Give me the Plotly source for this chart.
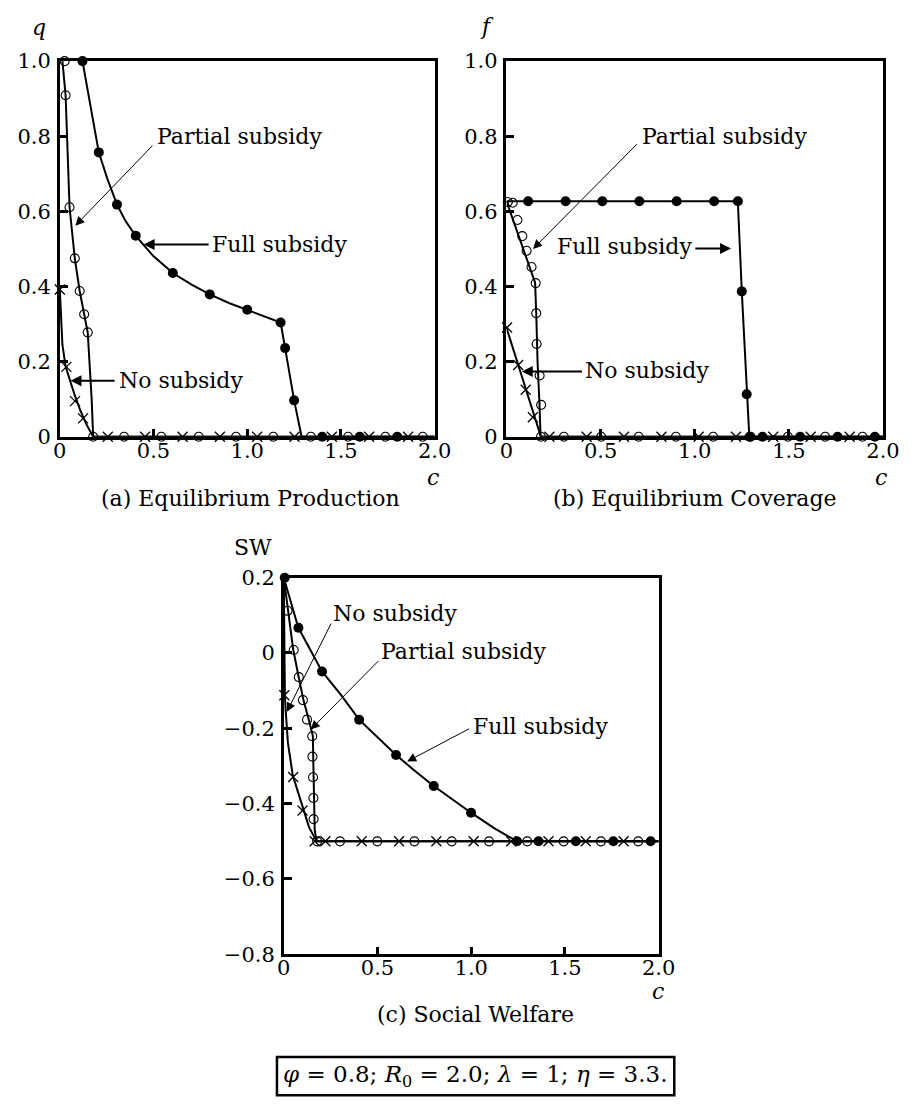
import plotly.graph_objects as go

W, H = 917, 1109
OFF = 8  # page body margin of the html page
FONT = "'DejaVu Serif', 'Liberation Serif', serif"
FS = 22      # annotation text size
TFS = 21     # tick label size

# ---------------- data: panel (a) Equilibrium Production ----------------
a_full_line_c = [0.121, 0.152, 0.18, 0.208, 0.253, 0.305, 0.35, 0.405, 0.499, 0.603, 0.703, 0.80, 0.902, 1.0, 1.087, 1.178, 1.202, 1.25, 1.29, 2.0]
a_full_line_q = [1.0, 0.913, 0.826, 0.757, 0.688, 0.618, 0.575, 0.535, 0.481, 0.436, 0.405, 0.379, 0.356, 0.338, 0.321, 0.304, 0.236, 0.097, 0.0, 0.0]
a_full_mk_c = [0.121, 0.208, 0.305, 0.405, 0.603, 0.80, 1.0, 1.178, 1.202, 1.25, 1.4, 1.6, 1.8]
a_full_mk_q = [1.0, 0.757, 0.618, 0.535, 0.436, 0.379, 0.338, 0.304, 0.236, 0.097, 0.0, 0.0, 0.0]

a_part_line_c = [0.014, 0.031, 0.052, 0.080, 0.106, 0.130, 0.149, 0.170, 0.178, 2.0]
a_part_line_q = [1.0, 0.909, 0.611, 0.475, 0.388, 0.326, 0.278, 0.10, 0.0, 0.0]
a_part_mk_c = [0.026, 0.031, 0.052, 0.080, 0.106, 0.130, 0.149, 0.178, 0.343, 0.542, 0.741, 0.940, 1.139, 1.339, 1.538, 1.737, 1.936]
a_part_mk_q = [1.0, 0.909, 0.611, 0.475, 0.388, 0.326, 0.278, 0.0, 0, 0, 0, 0, 0, 0, 0, 0, 0]

a_none_line_c = [0.0, 0.014, 0.031, 0.055, 0.08, 0.109, 0.14, 0.178, 2.0]
a_none_line_q = [0.392, 0.245, 0.187, 0.149, 0.11, 0.071, 0.035, 0.0, 0.0]
a_none_mk_c = [0.0, 0.035, 0.081, 0.124, 0.256, 0.455, 0.655, 0.854, 1.053, 1.252, 1.451, 1.650, 1.858]
a_none_mk_q = [0.392, 0.186, 0.095, 0.049, 0, 0, 0, 0, 0, 0, 0, 0, 0]

# ---------------- data: panel (b) Equilibrium Coverage ----------------
b_full_line_c = [0.0, 1.229, 1.25, 1.276, 1.29, 2.0]
b_full_line_f = [0.627, 0.627, 0.387, 0.113, 0.0, 0.0]
b_full_mk_c = [0.115, 0.314, 0.509, 0.706, 0.904, 1.103, 1.229, 1.25, 1.276, 1.291, 1.36, 1.56, 1.759, 1.957]
b_full_mk_f = [0.627, 0.627, 0.627, 0.627, 0.627, 0.627, 0.627, 0.387, 0.113, 0, 0, 0, 0, 0]

b_part_line_c = [0.0, 0.152, 0.158, 0.165, 0.175, 0.181, 2.0]
b_part_line_f = [0.627, 0.41, 0.33, 0.2, 0.09, 0.0, 0.0]
b_part_mk_c = [0.007, 0.033, 0.058, 0.084, 0.107, 0.133, 0.155, 0.158, 0.160, 0.176, 0.184, 0.183, 0.305, 0.503, 0.702, 0.9, 1.098, 1.297, 1.495, 1.693, 1.891]
b_part_mk_f = [0.625, 0.623, 0.577, 0.534, 0.495, 0.452, 0.409, 0.329, 0.247, 0.163, 0.085, 0, 0, 0, 0, 0, 0, 0, 0, 0, 0]

b_none_line_c = [0.0, 0.183, 2.0]
b_none_line_f = [0.29, 0.0, 0.0]
b_none_mk_c = [0.003, 0.062, 0.102, 0.14, 0.228, 0.426, 0.624, 0.823, 1.021, 1.219, 1.417, 1.616, 1.823]
b_none_mk_f = [0.291, 0.191, 0.125, 0.052, 0, 0, 0, 0, 0, 0, 0, 0, 0]

# ---------------- data: panel (c) Social Welfare ----------------
c_full_line_c = [0.0, 0.078, 0.204, 0.303, 0.402, 0.599, 0.70, 0.8, 0.999, 1.122, 1.244, 2.0]
c_full_line_sw = [0.2, 0.067, -0.049, -0.110, -0.177, -0.271, -0.313, -0.353, -0.424, -0.465, -0.5, -0.5]
c_full_mk_c = [0.005, 0.078, 0.204, 0.402, 0.599, 0.8, 0.999, 1.244, 1.359, 1.558, 1.758, 1.957]
c_full_mk_sw = [0.2, 0.067, -0.049, -0.177, -0.271, -0.353, -0.424, -0.5, -0.5, -0.5, -0.5, -0.5]

c_part_line_c = [0.0, 0.022, 0.05, 0.08, 0.105, 0.135, 0.155, 0.158, 0.161, 0.165, 0.175, 2.0]
c_part_line_sw = [0.2, 0.11, 0.01, -0.065, -0.125, -0.18, -0.22, -0.3, -0.4, -0.47, -0.5, -0.5]
c_part_mk_c = [0.02, 0.053, 0.08, 0.102, 0.124, 0.152, 0.153, 0.156, 0.158, 0.159, 0.178, 0.3, 0.499, 0.697, 0.896, 1.095, 1.299, 1.493, 1.692, 1.891]
c_part_mk_sw = [0.112, 0.008, -0.064, -0.125, -0.177, -0.221, -0.275, -0.33, -0.385, -0.441, -0.5, -0.5, -0.5, -0.5, -0.5, -0.5, -0.5, -0.5, -0.5, -0.5]

c_none_line_c = [0.0, 0.003, 0.006, 0.01, 0.022, 0.048, 0.1, 0.135, 0.175, 2.0]
c_none_line_sw = [0.2, 0.0, -0.112, -0.151, -0.238, -0.325, -0.411, -0.463, -0.5, -0.5]
c_none_mk_c = [0.003, 0.05, 0.1, 0.165, 0.222, 0.416, 0.615, 0.814, 1.013, 1.213, 1.412, 1.611, 1.813]
c_none_mk_sw = [-0.112, -0.329, -0.418, -0.5, -0.5, -0.5, -0.5, -0.5, -0.5, -0.5, -0.5, -0.5, -0.5]

x_tickvals = [0, 0.5, 1.0, 1.5, 2.0]
x_ticktext = ["0", "0.5", "1.0", "1.5", "2.0"]
ab_tickvals = [0, 0.2, 0.4, 0.6, 0.8, 1.0]
ab_ticktext = ["0", "0.2", "0.4", "0.6", "0.8", "1.0"]
c_tickvals = [-0.8, -0.6, -0.4, -0.2, 0, 0.2]
c_ticktext = ["\u22120.8", "\u22120.6", "\u22120.4", "\u22120.2", "0", "0.2"]

# ---------------- figure ----------------
fig = go.Figure()

def add_series(xa, ya, lc, lv, mc, mv, kind):
    fig.add_trace(go.Scatter(x=lc, y=lv, mode="lines", xaxis=xa, yaxis=ya,
                             line=dict(color="black", width=2), cliponaxis=False,
                             hoverinfo="skip", showlegend=False))
    if kind == "full":
        mk = dict(symbol="circle", size=10, color="black")
    elif kind == "part":
        mk = dict(symbol="circle-open", size=9, color="black", line=dict(width=1.1, color="black"))
    else:
        mk = dict(symbol="x-thin", size=10, color="black", line=dict(width=1.3, color="black"))
    fig.add_trace(go.Scatter(x=mc, y=mv, mode="markers", xaxis=xa, yaxis=ya,
                             marker=mk, cliponaxis=False, showlegend=False))

add_series("x", "y", a_none_line_c, a_none_line_q, a_none_mk_c, a_none_mk_q, "none")
add_series("x", "y", a_part_line_c, a_part_line_q, a_part_mk_c, a_part_mk_q, "part")
add_series("x", "y", a_full_line_c, a_full_line_q, a_full_mk_c, a_full_mk_q, "full")

add_series("x2", "y2", b_none_line_c, b_none_line_f, b_none_mk_c, b_none_mk_f, "none")
add_series("x2", "y2", b_part_line_c, b_part_line_f, b_part_mk_c, b_part_mk_f, "part")
add_series("x2", "y2", b_full_line_c, b_full_line_f, b_full_mk_c, b_full_mk_f, "full")

add_series("x3", "y3", c_none_line_c, c_none_line_sw, c_none_mk_c, c_none_mk_sw, "none")
add_series("x3", "y3", c_part_line_c, c_part_line_sw, c_part_mk_c, c_part_mk_sw, "part")
add_series("x3", "y3", c_full_line_c, c_full_line_sw, c_full_mk_c, c_full_mk_sw, "full")

def pxx(x):
    return (x - OFF) / W

def pyy(y):
    return 1 - (y - OFF) / H

axis_common = dict(showline=True, linecolor="black", linewidth=2.5, mirror=True,
                   ticks="inside", ticklen=8, tickwidth=2.5, tickcolor="black",
                   showgrid=False, zeroline=False, fixedrange=True,
                   tickfont=dict(family=FONT, size=TFS, color="black"))

def xax(dom, anchor):
    return dict(domain=dom, anchor=anchor, range=[0, 2.0], tickmode="array",
                tickvals=x_tickvals, ticktext=x_ticktext, ticklabelstandoff=-7, **axis_common)

def yax(dom, anchor, rng, tv, tt):
    return dict(domain=dom, anchor=anchor, range=rng, tickmode="array",
                tickvals=tv, ticktext=tt, ticklabelstandoff=2, **axis_common)

fig.update_layout(
    width=W, height=H, margin=dict(l=0, r=0, t=0, b=0),
    paper_bgcolor="white", plot_bgcolor="white",
    font=dict(family=FONT, size=FS, color="black"),
    xaxis=xax([pxx(54), pxx(439)], "y"),
    yaxis=yax([pyy(434), pyy(50)], "x", [0, 1.0], ab_tickvals, ab_ticktext),
    xaxis2=xax([pxx(512.7), pxx(899.3)], "y2"),
    yaxis2=yax([pyy(434), pyy(50)], "x2", [0, 1.0], ab_tickvals, ab_ticktext),
    xaxis3=xax([pxx(284), pxx(669)], "y3"),
    yaxis3=yax([pyy(963), pyy(578)], "x3", [-0.8, 0.2], c_tickvals, c_ticktext),
)

ann = []

def label(xr, yr, x, y, text, anchor="left"):
    ann.append(dict(xref=xr, yref=yr, x=x, y=y, text=text, showarrow=False,
                    xanchor=anchor, yanchor="middle",
                    font=dict(family=FONT, size=FS, color="black")))

def arrow(xr, yr, hx, hy, tx, ty, w):
    ann.append(dict(xref=xr, yref=yr, axref=xr, ayref=yr, x=hx, y=hy, ax=tx, ay=ty,
                    text="", showarrow=True, arrowhead=2,
                    arrowsize=(1.1 if w > 1.5 else 1.8), arrowwidth=w,
                    arrowcolor="black"))

# panel (a)
label("x", "y", 0.509, 0.80, "Partial subsidy")
arrow("x", "y", 0.083, 0.562, 0.502, 0.779, 1)
label("x", "y", 0.802, 0.513, "Full subsidy")
arrow("x", "y", 0.447, 0.512, 0.802, 0.512, 2)
label("x", "y", 0.306, 0.151, "No subsidy")
arrow("x", "y", 0.057, 0.149, 0.30, 0.149, 2)

# panel (b)
label("x2", "y2", 0.707, 0.80, "Partial subsidy")
arrow("x2", "y2", 0.141, 0.50, 0.701, 0.783, 1)
label("x2", "y2", 0.995, 0.506, "Full subsidy", anchor="right")
arrow("x2", "y2", 1.193, 0.501, 0.995, 0.501, 2)
label("x2", "y2", 0.409, 0.176, "No subsidy")
arrow("x2", "y2", 0.081, 0.174, 0.409, 0.174, 2)

# panel (c)
label("x3", "y3", 0.253, 0.104, "No subsidy")
arrow("x3", "y3", 0.017, -0.156, 0.256, 0.082, 1)
label("x3", "y3", 0.508, 0.004, "Partial subsidy")
arrow("x3", "y3", 0.144, -0.203, 0.513, -0.017, 1)
label("x3", "y3", 1.001, -0.195, "Full subsidy")
arrow("x3", "y3", 0.658, -0.288, 0.997, -0.199, 1)

def ptext(x, y, text, anchor="center", size=FS):
    ann.append(dict(xref="paper", yref="paper", x=pxx(x), y=pyy(y), text=text,
                    showarrow=False, xanchor=anchor, yanchor="middle",
                    font=dict(family=FONT, size=size, color="black")))

# axis titles
ptext(33, 16, "<i>q</i>")
ptext(493, 15, "<i>f</i>")
ptext(252, 547, "SW")
ptext(437, 476, "<i>c</i>")
ptext(897, 476, "<i>c</i>")
ptext(668, 1001, "<i>c</i>")

# captions
ptext(250, 497, "(a) Equilibrium Production")
ptext(706, 497, "(b) Equilibrium Coverage")
ptext(481, 1024, "(c) Social Welfare")

# parameter box
ptext(481, 1087, "<i>φ</i> = 0.8; <i>R</i><sub>0</sub> = 2.0; <i>λ</i> = 1; <i>η</i> = 3.3.", size=23)

fig.update_layout(annotations=ann)
fig.add_shape(type="rect", xref="paper", yref="paper",
              x0=pxx(277), x1=pxx(685), y0=pyy(1107), y1=pyy(1068),
              line=dict(color="black", width=2.5), fillcolor="rgba(0,0,0,0)")

fig.write_html("out.html")
